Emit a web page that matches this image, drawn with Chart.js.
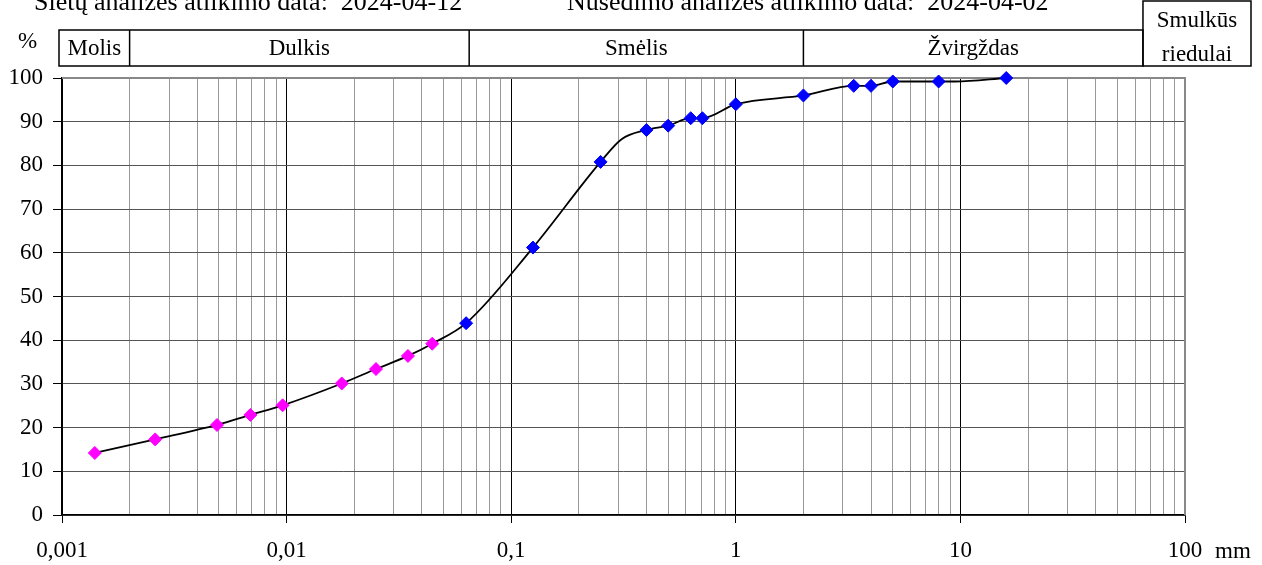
<!DOCTYPE html>
<html>
<head>
<meta charset="utf-8">
<script src="https://cdn.jsdelivr.net/npm/chart.js@4"></script>
<style>
  body { margin: 0; background: #fff; }
  #wrap { width: 1262px; height: 565px; position: relative; }
</style>
</head>
<body>
<div id="wrap"><canvas id="grading"></canvas></div>
<script>
// nusedimo (hydrometer) points
var siltSize = [0.0014, 0.0026, 0.0049, 0.0069, 0.0096, 0.0176, 0.025, 0.0347, 0.0445];
var siltPass = [14.2, 17.3, 20.6, 22.9, 25.1, 30.1, 33.4, 36.4, 39.2];
// sietu (sieve) points
var sieveSize = [0.063, 0.125, 0.25, 0.4, 0.5, 0.63, 0.71, 1, 2, 3.35, 4, 5, 8, 16];
var sievePass = [43.9, 61.2, 80.8, 88.1, 89.1, 90.8, 90.8, 94.0, 96.0, 98.2, 98.2, 99.2, 99.2, 100];
// extra bends of the black curve
var bendSize = [0.31, 9.5];
var bendPass = [86.0, 99.2];

var xMajors = [0.001, 0.01, 0.1, 1, 10, 100];
var xTickLabels = ['0,001', '0,01', '0,1', '1', '10', '100'];
var yTicks = [0, 10, 20, 30, 40, 50, 60, 70, 80, 90, 100];

var zoneNames = ['Molis', 'Dulkis', 'Smėlis', 'Žvirgždas'];
var zoneBounds = [0.002, 0.065, 2, 65];
var lastZone = ['Smulkūs', 'riedulai'];

var titleSieve = 'Sietų analizės atlikimo data:  2024-04-12';
var titleSilt = 'Nusėdimo analizės atlikimo data:  2024-04-02';

var serif = 'Liberation Serif';

function toPoints(xs, ys) {
  var pts = [];
  for (var i = 0; i < xs.length; i++) pts.push({ x: xs[i], y: ys[i] });
  return pts;
}

var curve = toPoints(siltSize, siltPass)
  .concat(toPoints(sieveSize, sievePass))
  .concat(toPoints(bendSize, bendPass))
  .sort(function(a, b) { return a.x - b.x; });

var headerPlugin = {
  id: 'header',
  beforeDatasetsDraw: function(chart) {
    var c = chart.ctx, a = chart.chartArea;
    c.save();
    c.strokeStyle = '#888';
    c.lineWidth = 2;
    c.beginPath();
    c.moveTo(a.left, a.top);
    c.lineTo(a.right, a.top);
    c.lineTo(a.right, a.bottom);
    c.stroke();
    c.restore();
  },
  afterDraw: function(chart) {
    var c = chart.ctx, a = chart.chartArea, xs = chart.scales.x;
    c.save();
    c.fillStyle = '#000';
    c.strokeStyle = '#000';
    c.lineWidth = 1.5;

    c.font = '26px ' + serif;
    c.textAlign = 'left';
    c.textBaseline = 'alphabetic';
    c.fillText(titleSieve, 34, 10);
    c.fillText(titleSilt, 567, 10);

    c.font = '23px ' + serif;
    c.fillText('%', 18, 48);

    // soil class boxes
    var top = 30, bottom = 66;
    var edges = [a.left - 3];
    for (var i = 0; i < zoneBounds.length; i++) edges.push(xs.getPixelForValue(zoneBounds[i]));
    c.strokeRect(edges[0], top, edges[edges.length - 1] - edges[0], bottom - top);
    c.textAlign = 'center';
    for (var j = 0; j < zoneNames.length; j++) {
      if (j > 0) {
        c.beginPath();
        c.moveTo(edges[j], top);
        c.lineTo(edges[j], bottom);
        c.stroke();
      }
      c.fillText(zoneNames[j], (edges[j] + edges[j + 1]) / 2, 55);
    }
    var lastL = edges[edges.length - 1], lastR = 1251;
    c.strokeRect(lastL, 1, lastR - lastL, bottom - 1);
    c.fillText(lastZone[0], (lastL + lastR) / 2, 27);
    c.fillText(lastZone[1], (lastL + lastR) / 2, 61);

    c.textAlign = 'left';
    c.fillText('mm', 1215, 558);
    c.restore();
  }
};

var ctx = document.getElementById('grading');

var chart = new Chart(ctx, {
  type: 'scatter',
  data: {
    datasets: [{
      label: 'Nusėdimo analizė',
      data: toPoints(siltSize, siltPass),
      backgroundColor: '#ff00ff',
      borderColor: '#ff00ff',
      pointStyle: 'rectRot',
      pointRadius: 6.5,
      showLine: false,
      clip: false
    }, {
      label: 'Sietų analizė',
      data: toPoints(sieveSize, sievePass),
      backgroundColor: '#0000ff',
      borderColor: '#0000ff',
      pointStyle: 'rectRot',
      pointRadius: 6.5,
      showLine: false,
      clip: false
    }, {
      label: 'Kreivė',
      data: curve,
      borderColor: '#000',
      borderWidth: 1.8,
      pointRadius: 0,
      showLine: true,
      cubicInterpolationMode: 'monotone',
      clip: 4
    }]
  },
  options: {
    responsive: true,
    maintainAspectRatio: false,
    animation: false,
    layout: { padding: { top: 78, right: 77, bottom: 0, left: 0 } },
    plugins: {
      legend: { display: false },
      tooltip: { enabled: false }
    },
    scales: {
      x: {
        type: 'logarithmic',
        min: 0.001,
        max: 100,
        afterBuildTicks: function(scale) {
          var t = [];
          for (var i = 0; i < xMajors.length; i++) {
            t.push({ value: xMajors[i], major: true });
            if (i < xMajors.length - 1) {
              for (var m = 2; m <= 9; m++) t.push({ value: xMajors[i] * m, major: false });
            }
          }
          scale.ticks = t;
        },
        afterFit: function(scale) { scale.height = 50; },
        ticks: {
          autoSkip: false,
          maxRotation: 0,
          padding: 14,
          color: '#000',
          font: { family: serif, size: 23 },
          callback: function(value) {
            var k = xMajors.indexOf(value);
            return k >= 0 ? xTickLabels[k] : '';
          }
        },
        grid: {
          color: function(c) { return c.tick && c.tick.major ? '#000' : '#999'; },
          tickColor: function(c) { return c.tick && c.tick.major ? '#000' : 'rgba(0,0,0,0)'; },
          tickLength: 8
        },
        border: { color: '#000', width: 1.5 }
      },
      y: {
        min: 0,
        max: 100,
        afterBuildTicks: function(scale) {
          scale.ticks = yTicks.map(function(v) { return { value: v }; });
        },
        afterFit: function(scale) { scale.width = 62; },
        ticks: {
          padding: 10,
          color: '#000',
          font: { family: serif, size: 23 }
        },
        grid: {
          color: '#555',
          tickColor: '#000',
          tickLength: 9
        },
        border: { color: '#000', width: 1.5 }
      }
    }
  },
  plugins: [headerPlugin]
});
</script>
</body>
</html>
